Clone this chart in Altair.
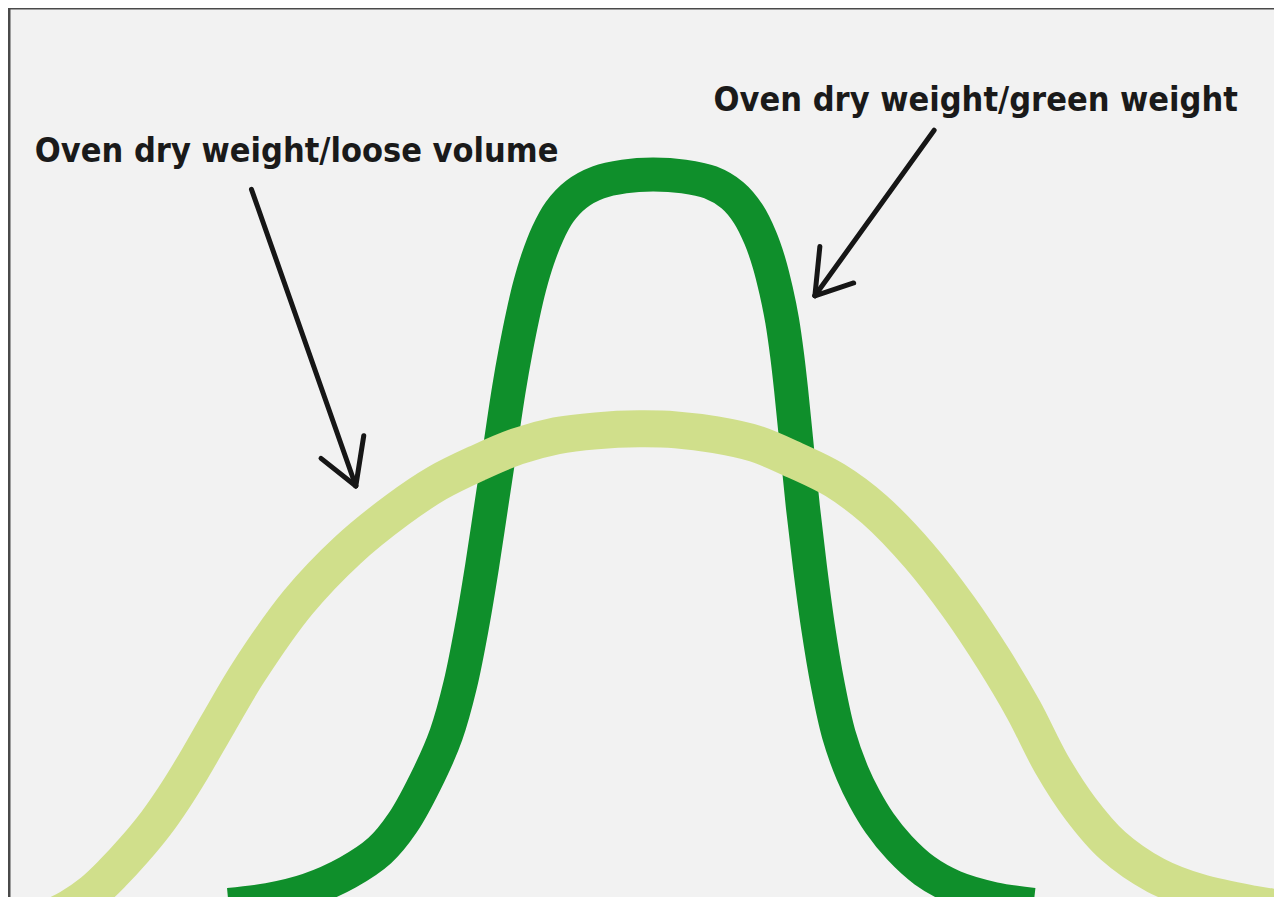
import altair as alt
import pandas as pd

# Curve centre lines (x position, height above the bottom edge)
dark_x = [230, 270, 310, 350, 382, 405, 432, 449, 463, 475, 485, 494, 503, 512, 519, 526, 533,
          541, 551, 563, 580, 602, 628, 657,
          688, 715, 737, 753, 765, 774, 781, 787, 792, 796, 802, 808, 815, 823, 833, 844,
          858, 870, 885, 905, 930, 960, 1000, 1040]
dark_h = [-8, -3, 7, 25, 47, 75, 125, 165, 215, 275, 335, 395, 455, 515, 555, 590, 620,
          647, 673, 695, 713, 725, 731, 733,
          731, 725, 712, 693, 669, 643, 615, 585, 550, 515, 455, 395, 335, 275, 215, 165,
          125, 100, 75, 50, 27, 10, -2, -8]

light_x = [40, 70, 93, 113, 135, 157, 175, 193, 220, 250, 300, 350, 400, 440, 480, 520, 560,
           600, 643, 680, 720, 760, 800, 840, 880, 925, 965, 1000, 1030, 1058, 1087, 1120,
           1163, 1206, 1260, 1300]
light_h = [-26, -11, 5, 24, 48, 75, 101, 130, 177, 228, 299, 352, 393, 420, 440, 457, 468,
           473, 475, 474, 469, 460, 443, 423, 393, 346, 294, 241, 190, 135, 90, 52,
           22, 5, -7, -13]

# Annotation arrows: shaft start/end plus the two arrow-head barbs
arrow_id = ["loose", "loose", "loose_b1", "loose_b1", "loose_b2", "loose_b2",
            "green", "green", "green_b1", "green_b1", "green_b2", "green_b2"]
arrow_x = [253, 358, 323, 358, 366, 358,
           940, 820, 825, 820, 859, 820]
arrow_h = [718, 417, 445, 417, 468, 417,
           778, 610, 660, 610, 623, 610]

labels = ["Oven dry weight/loose volume", "Oven dry weight/green weight"]
label_x = [35, 718]
label_h = [746, 798]

dark = pd.DataFrame({"x": dark_x, "h": dark_h})
light = pd.DataFrame({"x": light_x, "h": light_h})
arrows = pd.DataFrame({"id": arrow_id, "x": arrow_x, "h": arrow_h,
                       "o": list(range(len(arrow_id)))})
text = pd.DataFrame({"label": labels, "x": label_x, "h": label_h})

xs = alt.Scale(domain=[8, 1282], nice=False, zero=False)
ys = alt.Scale(domain=[0, 902], nice=False, zero=False)
X = alt.X("x:Q", scale=xs, axis=None)
Y = alt.Y("h:Q", scale=ys, axis=None)

dark_line = alt.Chart(dark).mark_line(
    color="#0f8f2b", strokeWidth=34, interpolate="catmull-rom", clip=True, strokeCap="butt"
).encode(x=X, y=Y, order="x:Q")

light_line = alt.Chart(light).mark_line(
    color="#d0df8b", strokeWidth=37, interpolate="catmull-rom", clip=True, strokeCap="butt"
).encode(x=X, y=Y, order="x:Q")

arrow_lines = alt.Chart(arrows).mark_line(
    color="#161616", strokeWidth=5, strokeCap="round"
).encode(x=X, y=Y, detail="id:N", order="o:Q")

label_text = alt.Chart(text).mark_text(
    align="left", baseline="alphabetic", fontSize=34, fontWeight="bold",
    font="DejaVu Sans Condensed, sans-serif", color="#1a1a1a"
).encode(x=X, y=Y, text="label:N")

border = alt.Chart(pd.DataFrame({"k": [0]})).mark_rule(
    color="#4a4a4a", strokeWidth=3
).encode(x=alt.value(1), x2=alt.value(1266), y=alt.value(0))
border_left = alt.Chart(pd.DataFrame({"k": [0]})).mark_rule(
    color="#4a4a4a", strokeWidth=3
).encode(x=alt.value(1), y=alt.value(0), y2=alt.value(889))

chart = alt.layer(dark_line, light_line, arrow_lines, label_text, border, border_left).properties(
    width=1266, height=889,
    autosize=alt.AutoSizeParams(type="none"),
    padding=0, background="#f2f2f2"
).configure_view(stroke=None, fill="#f2f2f2")

chart.save("out.html", embed_options={"renderer": "svg", "actions": False})
